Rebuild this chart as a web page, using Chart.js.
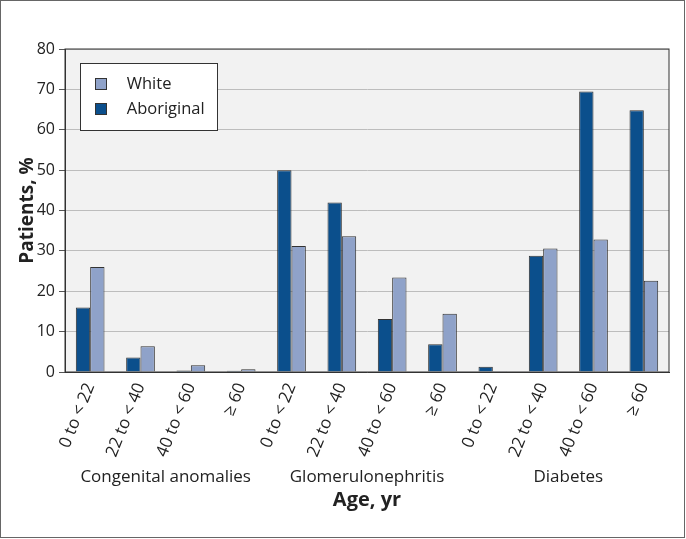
<!DOCTYPE html>
<html>
<head>
<meta charset="utf-8">
<script src="https://cdn.jsdelivr.net/npm/chart.js@4"></script>
<style>
  html, body { margin: 0; padding: 0; background: #fff; }
</style>
</head>
<body>
<canvas id="chartCanvas" width="686" height="539"></canvas>
<script>
// age bands, repeated for each cause of kidney failure
const ageLabels = [
    '0 to < 22', '22 to < 40', '40 to < 60', '≥ 60',
    '0 to < 22', '22 to < 40', '40 to < 60', '≥ 60',
    '0 to < 22', '22 to < 40', '40 to < 60', '≥ 60'
];
const groupLabels = ['Congenital anomalies', 'Glomerulonephritis', 'Diabetes'];

// % of patients
const aboriginalValues = [16, 3.6, 0.4, 0.3, 50, 42, 13.1, 6.9, 1.3, 28.8, 69.5, 64.8];
const whiteValues = [26, 6.4, 1.7, 0.7, 31.2, 33.6, 23.4, 14.4, 0.2, 30.6, 32.8, 22.6];

const yMin = 0;
const yMax = 80;
const yStep = 10;

const darkBlue = '#0b4f8c';
const lightBlue = '#8fa2c9';

Chart.defaults.font.family = "'Open Sans', sans-serif";
Chart.defaults.color = '#222';

function makeSwatch(color) {
    // small square used as legend marker
    const c = document.createElement('canvas');
    c.width = 12;
    c.height = 12;
    const g = c.getContext('2d');
    g.fillStyle = color;
    g.fillRect(0, 0, 12, 12);
    g.strokeStyle = '#333';
    g.lineWidth = 1;
    g.strokeRect(0.5, 0.5, 11, 11);
    return c;
}
const swatches = [makeSwatch(darkBlue), makeSwatch(lightBlue)];

const frame = {
    id: 'frame',
    beforeDraw(chart) {
        const { ctx, chartArea: a } = chart;
        ctx.save();
        ctx.fillStyle = '#fff';
        ctx.fillRect(0, 0, chart.width, chart.height);
        ctx.fillStyle = '#f2f2f2';
        ctx.fillRect(a.left, a.top, a.right - a.left, a.bottom - a.top);
        ctx.strokeStyle = '#666';
        ctx.lineWidth = 1;
        ctx.strokeRect(0.5, 0.5, chart.width - 2, chart.height - 2);
        ctx.restore();
    },
    afterLayout(chart) {
        // put the legend in the top-left corner of the plot
        const a = chart.chartArea;
        chart.legend.left = a.left + 10;
        chart.legend.top = a.top + 18.25;
    },
    beforeDatasetsDraw(chart) {
        const { ctx } = chart;
        const l = chart.legend;
        ctx.save();
        ctx.fillStyle = '#fff';
        ctx.strokeStyle = '#333';
        ctx.lineWidth = 1;
        ctx.fillRect(l.left + 5.5, l.top - 3.75, 137, 67);
        ctx.strokeRect(l.left + 5.5, l.top - 3.75, 137, 67);
        ctx.restore();
        l.draw();
    },
    afterDatasetsDraw(chart) {
        const { ctx, chartArea: a } = chart;
        ctx.save();
        ctx.strokeStyle = '#333';
        ctx.lineWidth = 1;
        ctx.strokeRect(a.left, a.top, a.right - a.left, a.bottom - a.top);
        ctx.restore();
    }
};

const ctx = document.getElementById('chartCanvas').getContext('2d');

new Chart(ctx, {
    type: 'bar',
    data: {
        labels: ageLabels,
        datasets: [
            {
                label: 'Aboriginal',
                data: aboriginalValues,
                backgroundColor: darkBlue,
                borderColor: '#333',
                borderWidth: 1,
                xAxisID: 'x'
            },
            {
                label: 'White',
                data: whiteValues,
                backgroundColor: lightBlue,
                borderColor: '#333',
                borderWidth: 1,
                xAxisID: 'x'
            }
        ]
    },
    options: {
        responsive: false,
        animation: false,
        devicePixelRatio: 1,
        categoryPercentage: 0.57,
        barPercentage: 1,
        layout: { padding: { top: 49, right: 17, bottom: 10, left: 0 } },
        plugins: {
            tooltip: { enabled: false },
            legend: {
                position: 'chartArea',
                align: 'start',
                reverse: true,
                labels: {
                    usePointStyle: true,
                    pointStyleWidth: 35,
                    padding: 8.5,
                    color: '#222',
                    font: { size: 16.5 },
                    generateLabels(chart) {
                        const items = Chart.defaults.plugins.legend.labels.generateLabels(chart);
                        items.forEach(item => { item.pointStyle = swatches[item.datasetIndex]; });
                        return items;
                    }
                }
            }
        },
        scales: {
            x: {
                type: 'category',
                position: 'bottom',
                grid: { display: false, drawTicks: false },
                border: { color: '#333' },
                ticks: {
                    autoSkip: false,
                    minRotation: 68,
                    maxRotation: 68,
                    padding: 8,
                    color: '#222',
                    font: { size: 17 }
                },
                afterFit(scale) { scale.height = 88; }
            },
            group: {
                type: 'category',
                position: 'bottom',
                labels: groupLabels,
                grid: { display: false, drawTicks: false },
                border: { display: false },
                ticks: {
                    autoSkip: false,
                    maxRotation: 0,
                    padding: 7,
                    color: '#222',
                    font: { size: 17 }
                },
                title: {
                    display: true,
                    text: 'Age, yr',
                    color: '#222',
                    font: { size: 20, weight: 'bold' },
                    padding: { top: 0, bottom: 17 }
                },
                afterFit(scale) { scale.height = 69; }
            },
            y: {
                min: yMin,
                max: yMax,
                ticks: {
                    stepSize: yStep,
                    padding: 4,
                    color: '#222',
                    font: { size: 16 }
                },
                grid: { color: '#bdbdbd', tickLength: 6, tickColor: '#555' },
                border: { color: '#333' },
                title: {
                    display: true,
                    text: 'Patients, %',
                    color: '#222',
                    font: { size: 19, weight: 'bold' },
                    padding: { top: 16.5, bottom: 0 }
                },
                afterFit(scale) { scale.width = 65; }
            }
        }
    },
    plugins: [frame]
});
</script>
</body>
</html>
